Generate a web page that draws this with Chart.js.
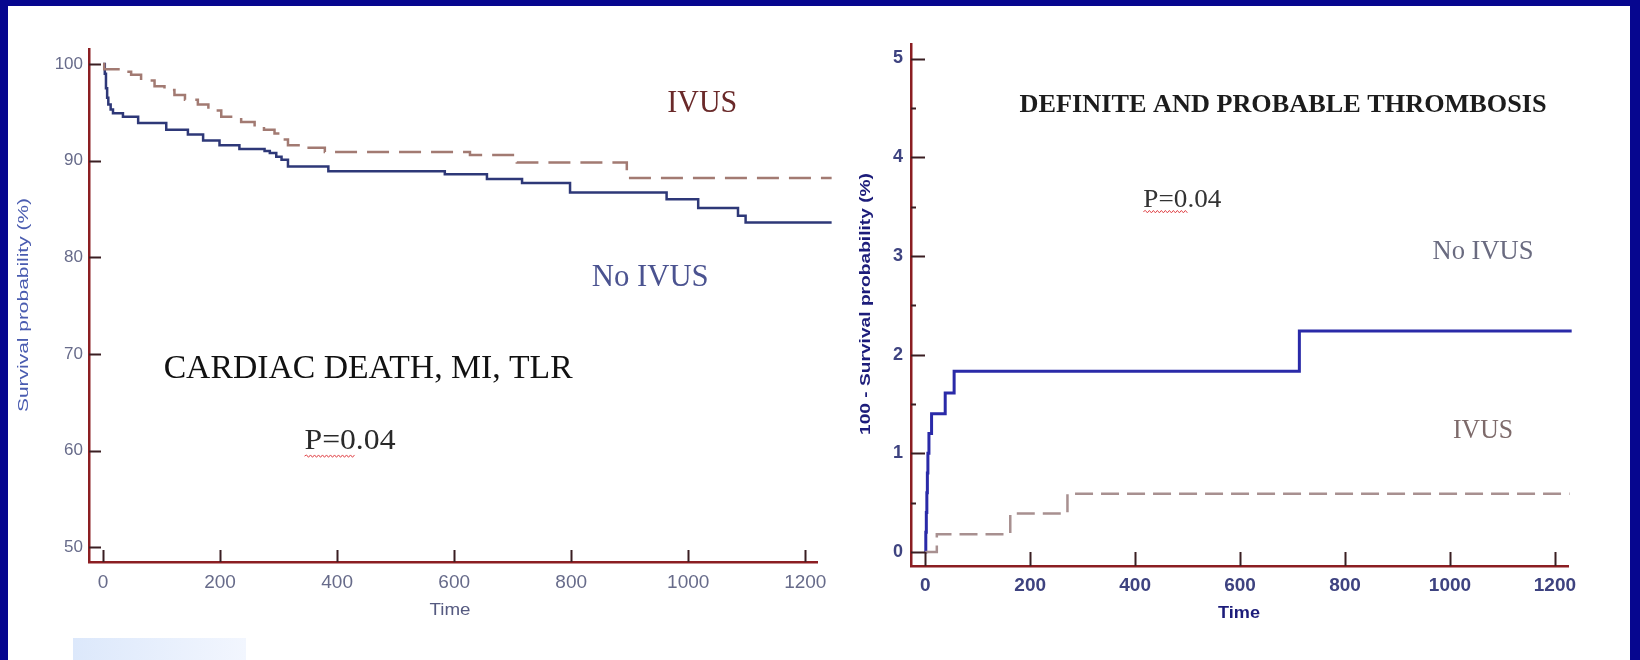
<!DOCTYPE html>
<html>
<head>
<meta charset="utf-8">
<script src="https://cdn.jsdelivr.net/npm/chart.js@4.4.1/dist/chart.umd.min.js"></script>
<style>
  html, body { margin: 0; padding: 0; }
  body { width: 1640px; height: 660px; background: #06068f; position: relative; overflow: hidden; }
  #sheet { position: absolute; left: 8px; top: 6px; width: 1622px; height: 654px; background: #fff; }
  #tab { position: absolute; left: 73px; top: 638px; width: 173px; height: 22px;
         background: linear-gradient(90deg, #dce8fb, #f2f6fe); }
  canvas { position: absolute; top: 0; }
  #mace { left: 0; }
  #thromb { left: 840px; }
</style>
</head>
<body>
<div id="sheet"></div>
<div id="tab"></div>
<canvas id="mace" width="840" height="660"></canvas>
<canvas id="thromb" width="800" height="660"></canvas>
<script>
// tick labels
const timeTicks = [0, 200, 400, 600, 800, 1000, 1200];
const maceTicks = [50, 60, 70, 80, 90, 100];
const thrombTicks = [0, 1, 2, 3, 4, 5];
const thrombMinor = [0.5, 1.5, 2.5, 3.5, 4.5];

// cardiac death, MI, TLR - Kaplan-Meier survival (%)
const maceNoIvusTime = [0, 3, 5, 7, 9, 13, 17, 34, 60, 108, 145, 171, 199, 233, 276, 285, 296, 305, 316, 385, 584, 656, 716, 798, 963, 1017, 1085, 1098, 1245];
const maceNoIvus     = [100, 99, 97.5, 96.5, 95.8, 95.3, 94.9, 94.55, 93.9, 93.2, 92.7, 92.1, 91.6, 91.2, 91.0, 90.8, 90.4, 90.1, 89.4, 88.9, 88.6, 88.1, 87.7, 86.7, 86.0, 85.1, 84.3, 83.6, 83.6];
const maceIvusTime = [0, 2, 31, 48, 65, 88, 105, 122, 140, 162, 180, 202, 236, 259, 275, 293, 305, 316, 339, 379, 627, 707, 895, 1245];
const maceIvus     = [100, 99.45, 99.2, 98.9, 98.3, 97.7, 97.3, 96.8, 96.3, 95.8, 95.2, 94.55, 94.0, 93.5, 93.2, 92.8, 92.2, 91.6, 91.35, 90.9, 90.6, 89.8, 88.2, 88.2];

// definite and probable thrombosis - 100 minus survival (%)
const thrombNoIvusTime = [0, 1, 2, 3, 4, 5, 7, 12, 38, 55, 713, 1232];
const thrombNoIvus     = [0, 0.2, 0.4, 0.6, 0.8, 1.0, 1.2, 1.4, 1.61, 1.83, 2.24, 2.24];
const thrombIvusTime = [0, 22, 162, 271, 1228];
const thrombIvus     = [0, 0.18, 0.39, 0.59, 0.59];

const pairs = (ts, vs) => ts.map((t, i) => ({ x: t, y: vs[i] }));

// draw text squeezed/stretched to a given width
function drawFit(ctx, text, cx, cy, w, font, color, rot) {
    ctx.save();
    ctx.translate(cx, cy);
    if (rot) ctx.rotate(rot);
    ctx.font = font;
    const m = ctx.measureText(text).width;
    ctx.scale(w / m, 1);
    ctx.textAlign = 'center';
    ctx.textBaseline = 'middle';
    ctx.fillStyle = color;
    ctx.fillText(text, 0, 0);
    ctx.restore();
}

function squiggle(ctx, x0, x1, y) {
    ctx.save();
    ctx.strokeStyle = '#e0464a';
    ctx.lineWidth = 1;
    ctx.beginPath();
    let up = true;
    ctx.moveTo(x0, y);
    for (let x = x0 + 2; x <= x1; x += 2) {
        ctx.lineTo(x, up ? y - 1.2 : y + 1.2);
        up = !up;
    }
    ctx.stroke();
    ctx.restore();
}

// inward tick marks on both axes
const tickMarks = {
    id: 'tickMarks',
    afterDraw(chart, args, opts) {
        const { ctx, chartArea: a, scales: { x, y } } = chart;
        ctx.save();
        ctx.strokeStyle = opts.color;
        ctx.lineWidth = 2;
        ctx.beginPath();
        opts.xTicks.forEach(v => {
            const px = Math.round(x.getPixelForValue(v)) + 0.5;
            ctx.moveTo(px, a.bottom);
            ctx.lineTo(px, a.bottom - opts.len);
        });
        opts.yTicks.forEach(v => {
            const py = Math.round(y.getPixelForValue(v)) + 0.5;
            ctx.moveTo(a.left, py);
            ctx.lineTo(a.left + opts.len, py);
        });
        (opts.yMinor || []).forEach(v => {
            const py = Math.round(y.getPixelForValue(v)) + 0.5;
            ctx.moveTo(a.left, py);
            ctx.lineTo(a.left + 5, py);
        });
        ctx.stroke();
        ctx.restore();
    }
};

// in-plot labels (data coords) and axis titles (pixels)
const plotText = {
    id: 'plotText',
    afterDraw(chart, args, opts) {
        const { ctx, scales: { x, y } } = chart;
        opts.labels.forEach(l => {
            const cx = x.getPixelForValue(l.x);
            const cy = y.getPixelForValue(l.y);
            drawFit(ctx, l.text, cx, cy, l.w, l.font, l.color);
            if (l.squiggle) {
                squiggle(ctx, cx - l.w / 2, cx - l.w / 2 + l.w * l.squiggle, cy + l.under);
            }
        });
        opts.titles.forEach(t => drawFit(ctx, t.text, t.x, t.y, t.w, t.font, t.color, t.rot));
    }
};

function kmChart(id, cfg) {
    return new Chart(document.getElementById(id), {
        type: 'line',
        data: { datasets: cfg.datasets },
        plugins: [tickMarks, plotText],
        options: {
            responsive: false,
            animation: false,
            layout: { padding: cfg.padding },
            elements: { point: { radius: 0 } },
            plugins: {
                legend: { display: false },
                tooltip: { enabled: false },
                tickMarks: { xTicks: timeTicks, yTicks: cfg.yTicks, yMinor: cfg.yMinor, len: cfg.tickLen, color: '#3a1e22' },
                plotText: { labels: cfg.labels, titles: cfg.titles }
            },
            scales: {
                x: {
                    type: 'linear',
                    min: cfg.xMin, max: cfg.xMax,
                    grid: { display: false, drawTicks: false },
                    border: { display: true, color: '#8b1e22', width: 2.5 },
                    afterBuildTicks: s => { s.ticks = timeTicks.map(v => ({ value: v })); },
                    afterFit: s => { s.height = cfg.xHeight; },
                    ticks: { autoSkip: false, maxRotation: 0, padding: cfg.xPad, color: cfg.tickColor, font: cfg.xFont,
                             callback: v => String(v) }
                },
                y: {
                    min: cfg.yMin, max: cfg.yMax,
                    grid: { display: false, drawTicks: false },
                    border: { display: true, color: '#8b1e22', width: 2.5 },
                    afterBuildTicks: s => { s.ticks = cfg.yTicks.map(v => ({ value: v })); },
                    afterFit: s => { s.width = cfg.yWidth; },
                    ticks: { padding: cfg.yPad, color: cfg.tickColor, font: cfg.yFont, callback: v => String(v) }
                }
            }
        }
    });
}

// survival steps: stepped true keeps the level until the next event time
kmChart('mace', {
    datasets: [
        { data: pairs(maceIvusTime, maceIvus), stepped: true, borderColor: '#a27a72', borderWidth: 2.5, borderDash: [22, 10], clip: false },
        { data: pairs(maceNoIvusTime, maceNoIvus), stepped: true, borderColor: '#2e3878', borderWidth: 2.5, clip: false }
    ],
    padding: { left: 0, top: 49, right: 23, bottom: 0 },
    xMin: -24, xMax: 1220, yMin: 48.5, yMax: 101.55,
    xHeight: 98, yWidth: 89, xPad: 9, yPad: 6, tickLen: 12,
    yTicks: maceTicks,
    tickColor: '#676b8a',
    xFont: { family: '"Liberation Sans", Arial, sans-serif', size: 19 },
    yFont: { family: '"Liberation Sans", Arial, sans-serif', size: 17 },
    labels: [
        { text: 'IVUS', x: 1024, y: 95.9, w: 70, font: '32px "Liberation Serif"', color: '#6a2a2a' },
        { text: 'No IVUS', x: 935, y: 77.9, w: 117, font: '31px "Liberation Serif"', color: '#4b5390' },
        { text: 'CARDIAC DEATH, MI, TLR', x: 453, y: 68.5, w: 409, font: '34px "Liberation Serif"', color: '#111111' },
        { text: 'P=0.04', x: 422, y: 61.0, w: 91, font: '30px "Liberation Serif"', color: '#2a2a2a', squiggle: 0.57, under: 15 }
    ],
    titles: [
        { text: 'Survival probability (%)', x: 24, y: 305, w: 214, font: '15px "Liberation Sans", Arial, sans-serif', color: '#4a5cb0', rot: -Math.PI / 2 },
        { text: 'Time', x: 450, y: 610, w: 41, font: '17px "Liberation Sans", Arial, sans-serif', color: '#555a80' }
    ]
});

kmChart('thromb', {
    datasets: [
        { data: pairs(thrombIvusTime, thrombIvus), stepped: true, borderColor: '#a89090', borderWidth: 2.5, borderDash: [18, 8], clip: false },
        { data: pairs(thrombNoIvusTime, thrombNoIvus), stepped: true, borderColor: '#2a2aa8', borderWidth: 3, clip: false }
    ],
    padding: { left: 0, top: 44, right: 72, bottom: 0 },
    xMin: -27.2, xMax: 1225, yMin: -0.142, yMax: 5.147,
    xHeight: 94, yWidth: 71, xPad: 8, yPad: 8, tickLen: 14,
    yTicks: thrombTicks, yMinor: thrombMinor,
    tickColor: '#3e4380',
    xFont: { family: '"Liberation Sans", Arial, sans-serif', size: 19, weight: 'bold' },
    yFont: { family: '"Liberation Sans", Arial, sans-serif', size: 18, weight: 'bold' },
    labels: [
        { text: 'DEFINITE AND PROBABLE THROMBOSIS', x: 682, y: 4.53, w: 527, font: 'bold 26px "Liberation Serif"', color: '#1c1c1c' },
        { text: 'P=0.04', x: 490, y: 3.56, w: 78, font: '25px "Liberation Serif"', color: '#333333', squiggle: 0.57, under: 11 },
        { text: 'No IVUS', x: 1063, y: 3.04, w: 101, font: '27px "Liberation Serif"', color: '#6a6b80' },
        { text: 'IVUS', x: 1063, y: 1.23, w: 60, font: '27px "Liberation Serif"', color: '#7d6a6a' }
    ],
    titles: [
        { text: '100 - Survival probability (%)', x: 26, y: 304, w: 262, font: 'bold 15px "Liberation Sans", Arial, sans-serif', color: '#1c1c7a', rot: -Math.PI / 2 },
        { text: 'Time', x: 399, y: 613, w: 42, font: 'bold 17px "Liberation Sans", Arial, sans-serif', color: '#1c1c7a' }
    ]
});
</script>
</body>
</html>
